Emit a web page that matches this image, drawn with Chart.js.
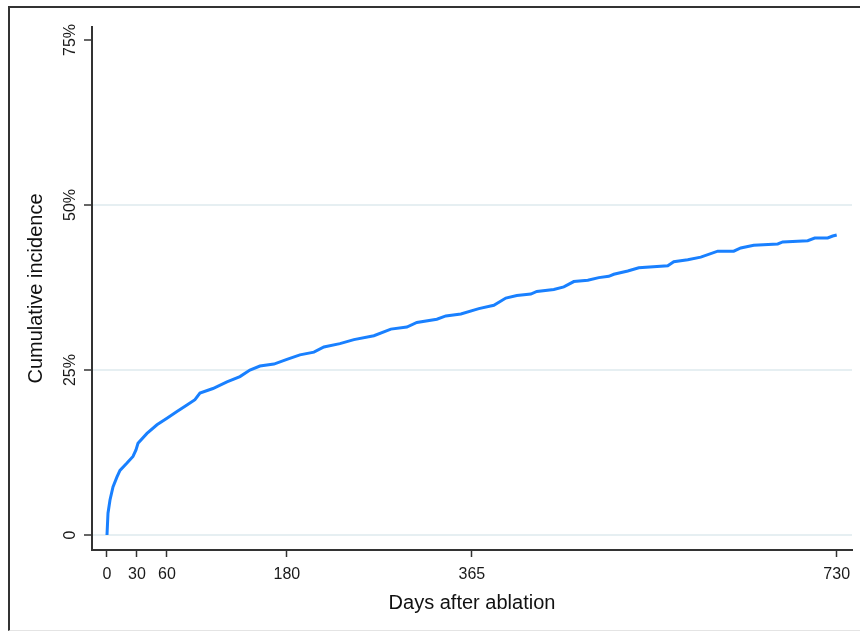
<!DOCTYPE html>
<html>
<head>
<meta charset="utf-8">
<script src="https://cdn.jsdelivr.net/npm/chart.js@4/dist/chart.umd.min.js"></script>
<style>
  body { margin: 0; background: #fff; }
  #wrap { position: relative; width: 860px; height: 631px; overflow: hidden; }
  #frame {
    position: absolute; left: 8px; top: 6px; width: 870px; height: 622px;
    border-left: 2px solid #333; border-top: 2px solid #333; border-bottom: 1px solid #e4e4e4;
    pointer-events: none;
  }
</style>
</head>
<body>
<div id="wrap">
  <canvas id="incidenceChart" width="860" height="631"></canvas>
  <div id="frame"></div>
</div>
<script>
// Cumulative incidence curve (days, percent)
const days = [0, 1, 3, 6, 10, 13, 20, 26, 29, 31, 40, 50, 60, 70, 80, 88, 93, 106, 120, 133,
    143, 153, 167, 180, 193, 207, 217, 233, 247, 267, 284, 300, 310, 330, 339, 354, 372, 387,
    399, 410, 424, 430, 447, 457, 467, 481, 492, 502, 507, 521, 532, 561, 567, 581, 594, 611,
    627, 634, 647, 671, 676, 701, 708, 721, 726, 730];
const incidence = [0, 3.3, 5.3, 7.3, 8.8, 9.8, 10.9, 11.9, 12.9, 13.9, 15.4, 16.7, 17.7, 18.7,
    19.7, 20.5, 21.5, 22.2, 23.2, 24.0, 25.0, 25.6, 25.9, 26.6, 27.3, 27.7, 28.5, 29.0, 29.6,
    30.2, 31.2, 31.5, 32.2, 32.7, 33.2, 33.5, 34.3, 34.8, 35.9, 36.3, 36.5, 36.9, 37.2, 37.6,
    38.4, 38.6, 39.0, 39.2, 39.5, 40.0, 40.5, 40.8, 41.4, 41.7, 42.1, 43.0, 43.0, 43.5, 43.9,
    44.1, 44.4, 44.6, 45.0, 45.0, 45.3, 45.45];

// axis ticks
const xTicks = [0, 30, 60, 180, 365, 730];
const yTicks = [0, 25, 50, 75];
const yTickLabels = ['0', '25%', '50%', '75%'];

const points = days.map((d, i) => ({ x: d, y: incidence[i] }));

const canvas = document.getElementById('incidenceChart');
if (canvas) {
    const ctx = canvas.getContext('2d');
    new Chart(ctx, {
        type: 'line',
        data: {
            datasets: [{
                label: 'Cumulative incidence',
                data: points,
                borderColor: 'rgb(25,128,255)',
                borderWidth: 3,
                pointRadius: 0,
                fill: false
            }]
        },
        options: {
            responsive: false,
            animation: false,
            layout: { padding: { left: 0, top: 27, right: 8, bottom: 0 } },
            plugins: {
                legend: { display: false },
                tooltip: { enabled: false }
            },
            scales: {
                x: {
                    type: 'linear',
                    min: -15,
                    max: 745.3,
                    afterBuildTicks: function(scale) {
                        scale.ticks = xTicks.map(v => ({ value: v }));
                    },
                    afterFit: function(scale) { scale.height = 81; },
                    grid: {
                        display: true,
                        drawOnChartArea: false,
                        drawTicks: true,
                        tickLength: 7,
                        tickColor: '#333',
                        tickWidth: 1.5
                    },
                    border: { display: true, color: '#333', width: 2 },
                    ticks: {
                        autoSkip: false,
                        minRotation: 0,
                        maxRotation: 0,
                        padding: 8,
                        color: '#1a1a1a',
                        font: { family: 'Liberation Sans, Arial', size: 16 }
                    },
                    title: {
                        display: true,
                        text: 'Days after ablation',
                        color: '#111',
                        padding: { top: 0, bottom: 16 },
                        font: { family: 'Liberation Sans, Arial', size: 20 }
                    }
                },
                y: {
                    type: 'linear',
                    min: -2.27,
                    max: 76.97,
                    afterBuildTicks: function(scale) {
                        scale.ticks = yTicks.map(v => ({ value: v }));
                    },
                    afterFit: function(scale) { scale.width = 92; },
                    grid: {
                        color: function(c) {
                            return c.tick && c.tick.value === 75 ? 'rgba(0,0,0,0)' : '#e6eff2';
                        },
                        lineWidth: 2,
                        tickLength: 8,
                        tickColor: '#333',
                        tickWidth: 1.5
                    },
                    border: { display: true, color: '#333', width: 2 },
                    ticks: {
                        minRotation: 90,
                        maxRotation: 90,
                        crossAlign: 'center',
                        padding: -3,
                        color: '#1a1a1a',
                        font: { family: 'Liberation Sans, Arial', size: 16 },
                        callback: function(value) {
                            const i = yTicks.indexOf(value);
                            return i >= 0 ? yTickLabels[i] : '';
                        }
                    },
                    title: {
                        display: true,
                        text: 'Cumulative incidence',
                        color: '#111',
                        padding: { top: 24, bottom: 0 },
                        font: { family: 'Liberation Sans, Arial', size: 20 }
                    }
                }
            }
        }
    });
} else {
    console.error('canvas not found');
}
</script>
</body>
</html>
